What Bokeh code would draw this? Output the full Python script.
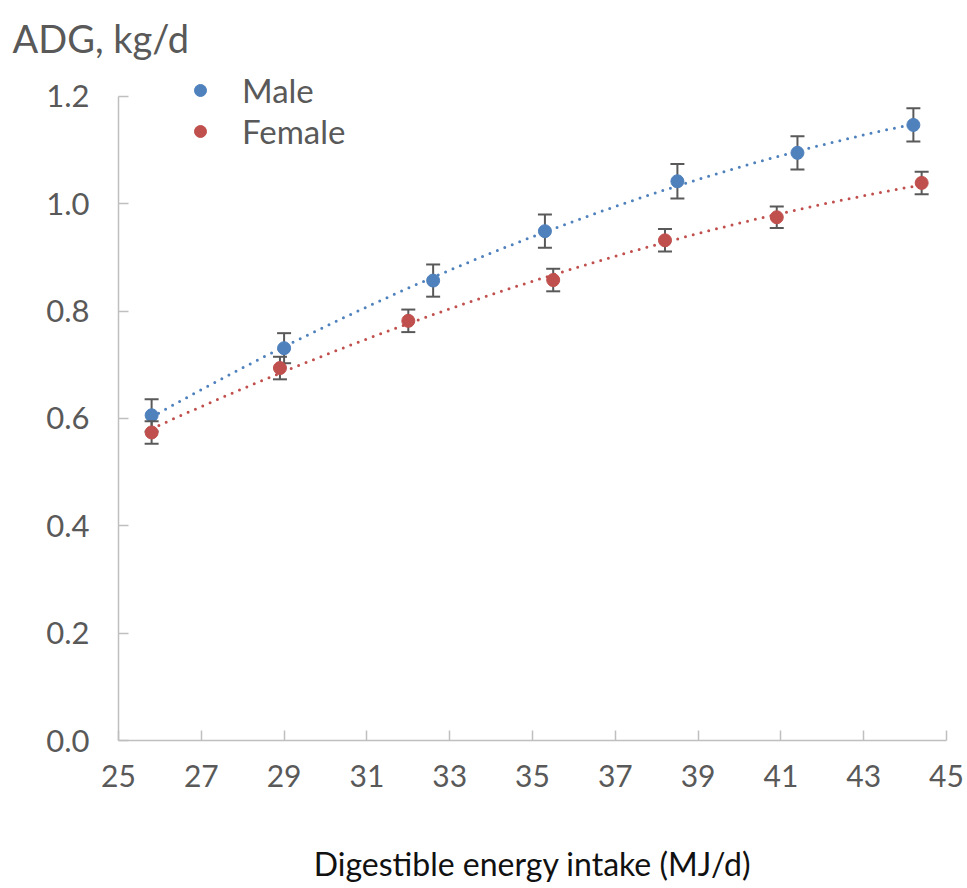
import numpy as np
from bokeh.plotting import figure
from bokeh.models import (ColumnDataSource, FixedTicker, NumeralTickFormatter, Legend,
                          LegendItem, Title, Range1d, LinearAxis)
from bokeh.embed import file_html
from bokeh.resources import INLINE

# ---- data ----
male_x = [25.8, 29.0, 32.6, 35.3, 38.5, 41.4, 44.2]
male_y = [0.606, 0.731, 0.857, 0.949, 1.042, 1.095, 1.147]
male_err = [0.030, 0.028, 0.030, 0.031, 0.032, 0.031, 0.031]

female_x = [25.8, 28.9, 32.0, 35.5, 38.2, 40.9, 44.4]
female_y = [0.574, 0.694, 0.782, 0.858, 0.932, 0.975, 1.039]
female_err = [0.021, 0.021, 0.021, 0.021, 0.021, 0.020, 0.021]

x_ticks = [25, 27, 29, 31, 33, 35, 37, 39, 41, 43, 45]
y_ticks = [0.0, 0.2, 0.4, 0.6, 0.8, 1.0, 1.2]

BLUE = "#4F81BD"
RED = "#C0504D"
GRAY_TXT = "#595959"
ERR = "#595959"
AXIS = "#BFBFBF"
FONT = "Lato"

# frame top sits a little above 1.2 so the legend can sit there; axis line stops at 1.2
Y_TOP = 1.2 + 26 / 536.67

p = figure(width=967, height=888, output_backend="svg", toolbar_location=None,
           x_range=Range1d(25, 45), y_range=Range1d(0, Y_TOP),
           min_border_left=118, min_border_right=21, min_border_top=70, min_border_bottom=148)
p.outline_line_color = None
p.xgrid.visible = False
p.ygrid.visible = False
p.background_fill_color = "white"
p.border_fill_color = "white"

for ax in (p.xaxis[0], p.yaxis[0]):
    ax.axis_line_color = AXIS
    ax.axis_line_width = 1.5
    ax.major_tick_line_color = AXIS
    ax.major_tick_line_width = 1.5
    ax.major_tick_in = 10
    ax.major_tick_out = 0
    ax.minor_tick_line_color = None
    ax.major_label_text_color = GRAY_TXT
    ax.major_label_text_font = FONT

p.xaxis.ticker = FixedTicker(ticks=x_ticks)
p.yaxis.ticker = FixedTicker(ticks=y_ticks)
p.yaxis.bounds = (0, 1.2)
p.yaxis.formatter = NumeralTickFormatter(format="0.0")
p.xaxis.major_label_text_font_size = "30px"
p.yaxis.major_label_text_font_size = "31px"
p.xaxis.major_label_standoff = 24
p.yaxis.major_label_standoff = 29


def series(xs, ys, errs, color):
    xs = np.array(xs)
    ys = np.array(ys)
    errs = np.array(errs)
    # quadratic trend line fitted to the data (as a spreadsheet trendline)
    coef = np.polyfit(xs, ys, 2)
    tx = np.linspace(xs.min(), xs.max() + 0.1, 200)
    ty = np.polyval(coef, tx)
    p.line(tx, ty, line_color=color, line_width=3, line_dash="0 8", line_cap="round")
    src = ColumnDataSource(dict(x=xs, y=ys, lo=ys - errs, hi=ys + errs))
    p.segment(x0="x", y0="lo", x1="x", y1="hi", source=src, line_color=ERR, line_width=2)
    p.scatter(x="x", y="hi", source=src, marker="dash", size=14, line_color=ERR, line_width=2)
    p.scatter(x="x", y="lo", source=src, marker="dash", size=14, line_color=ERR, line_width=2)
    r = p.scatter(x="x", y="y", source=src, marker="circle", size=13,
                  fill_color=color, line_color=color)
    return r


rm = series(male_x, male_y, male_err, BLUE)
rf = series(female_x, female_y, female_err, RED)

legend = Legend(items=[LegendItem(label="Male", renderers=[rm]),
                       LegendItem(label="Female", renderers=[rf])],
                location=(67, 589), margin=0, padding=0, spacing=1,
                glyph_width=30, glyph_height=40, label_height=40, label_standoff=27,
                label_text_font=FONT, label_text_font_size="33px",
                label_text_color=GRAY_TXT, border_line_color=None,
                background_fill_alpha=0)
p.add_layout(legend)

p.add_layout(Title(text="ADG, kg/d", align="left", offset=-106, standoff=20,
                   text_font=FONT, text_font_size="38px", text_color=GRAY_TXT,
                   text_font_style="normal"), "above")

# x-axis title carried by a bare extra axis below the main one
p.extra_x_ranges = {"title": Range1d(0, 1)}
title_axis = LinearAxis(x_range_name="title",
                        ticker=FixedTicker(ticks=[]),
                        axis_line_color=None, major_tick_line_color=None,
                        minor_tick_line_color=None, major_label_text_font_size="0px",
                        major_label_standoff=0, major_tick_in=0, major_tick_out=0,
                        axis_label="Digestible energy intake (MJ/d)",
                        axis_label_standoff=54, axis_label_text_font=FONT,
                        axis_label_text_font_size="32px", axis_label_text_color="#111111",
                        axis_label_text_font_style="normal")
p.add_layout(title_axis, "below")

open("out.html", "w").write(file_html(p, INLINE))
